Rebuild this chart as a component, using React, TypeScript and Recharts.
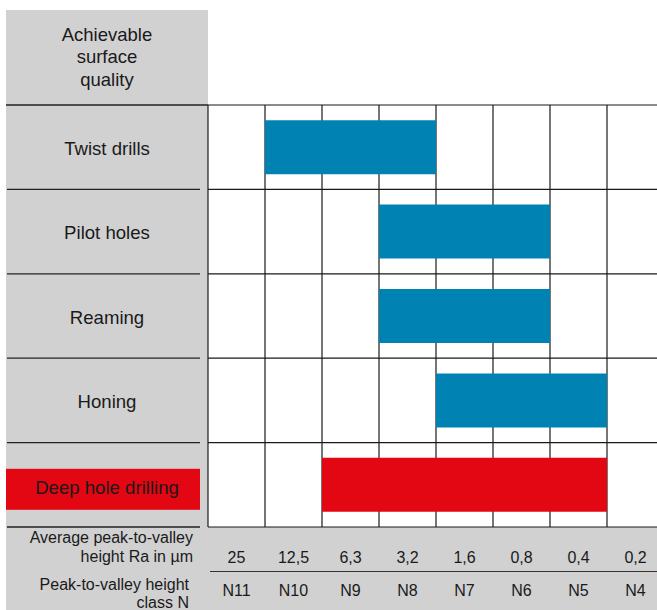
import React from 'react';
import { BarChart, Bar, XAxis, YAxis, CartesianGrid, Cell } from 'recharts';

const processes = ['Twist drills', 'Pilot holes', 'Reaming', 'Honing', 'Deep hole drilling'];
const rangeStart = [1, 3, 3, 4, 2];
const rangeEnd = [4, 6, 6, 7, 7];
const raValues = ['25', '12,5', '6,3', '3,2', '1,6', '0,8', '0,4', '0,2'];
const nClasses = ['N11', 'N10', 'N9', 'N8', 'N7', 'N6', 'N5', 'N4'];
const highlighted = 'Deep hole drilling';

const BLUE = '#0083b3';
const RED = '#e30613';
const GRAY = '#d1d1d1';
const INK = '#1a1a1a';
const FONT = '"Liberation Sans", Arial, Helvetica, sans-serif';

const data = processes.map((name, i) => ({ name, range: [rangeStart[i], rangeEnd[i]] }));
const colCount = raValues.length;
const rowCount = processes.length;
const gridTicks = Array.from({ length: colCount + 1 }, (_, i) => i);
const labelTicks = Array.from({ length: colCount }, (_, i) => i + 0.5);
const rowBoundaries = Array.from({ length: rowCount + 1 }, (_, i) => i);

const RowTick = (props: any) => {
  const { x, y, payload, index } = props;
  const name = payload.value;
  const hl = name === highlighted;
  const half = typeof payload.offset === 'number' && payload.offset > 0 ? payload.offset : 42.2;
  const first = index === 0;
  const last = index === rowCount - 1;
  return (
    <g>
      <line
        x1={first ? x - 202 : x - 201}
        x2={first ? x : x - 8}
        y1={y - half}
        y2={y - half}
        stroke="#222"
        strokeWidth={1.3}
      />
      {last && <line x1={x - 201} x2={x - 8} y1={y + half} y2={y + half} stroke="#222" strokeWidth={1.3} />}
      {hl && <rect x={x - 202} y={y - 16} width={194} height={41} fill={RED} />}
      <text
        x={x - 101}
        y={y + (hl ? 3 : 1)}
        textAnchor="middle"
        dominantBaseline="central"
        fontFamily={FONT}
        fontSize={18.6}
        fill={INK}
      >
        {name}
      </text>
    </g>
  );
};

const ColTick = (props: any) => {
  const { x, y, payload } = props;
  const i = Math.floor(payload.value);
  return (
    <g>
      <text x={x} y={y + 30} textAnchor="middle" dominantBaseline="central" fontFamily={FONT} fontSize={16} fill={INK}>
        {raValues[i]}
      </text>
      <text x={x} y={y + 63} textAnchor="middle" dominantBaseline="central" fontFamily={FONT} fontSize={16} fill={INK}>
        {nClasses[i]}
      </text>
    </g>
  );
};

const rowLines = ({ offset }: any) =>
  rowBoundaries.map((k) => offset.top + (k * offset.height) / rowCount);

export default function App() {
  return (
    <div
      style={{
        position: 'absolute',
        left: 0,
        top: 0,
        width: 657,
        height: 610,
        overflow: 'hidden',
        background: '#fff',
        fontFamily: FONT,
        color: INK,
      }}
    >
      <div style={{ position: 'absolute', left: 6, top: 10, width: 202, height: 600, background: GRAY }} />
      <div style={{ position: 'absolute', left: 6, top: 527, width: 651, height: 83, background: GRAY }} />
      <div style={{ position: 'absolute', left: 0, top: 0 }}>
        <BarChart
          width={664}
          height={610}
          data={data}
          layout="vertical"
          margin={{ top: 105, right: 0, bottom: 0, left: 0 }}
          barCategoryGap="18%"
        >
          <CartesianGrid
            xAxisId="grid"
            yAxisId="cat"
            stroke="#1a1a1a"
            strokeWidth={1.2}
            fill="#ffffff"
            fillOpacity={1}
            horizontalCoordinatesGenerator={rowLines}
          />
          <XAxis
            xAxisId="grid"
            type="number"
            domain={[0, colCount]}
            ticks={gridTicks}
            allowDataOverflow
            orientation="top"
            hide
          />
          <XAxis
            xAxisId="labels"
            type="number"
            domain={[0, colCount]}
            ticks={labelTicks}
            allowDataOverflow
            orientation="bottom"
            height={83}
            axisLine={false}
            tickLine={false}
            tickSize={0}
            tickMargin={0}
            interval={0}
            tick={<ColTick />}
          />
          <YAxis
            yAxisId="cat"
            type="category"
            dataKey="name"
            width={208}
            axisLine={false}
            tickLine={false}
            tickSize={0}
            tickMargin={0}
            interval={0}
            tick={<RowTick />}
          />
          <Bar dataKey="range" xAxisId="grid" yAxisId="cat" isAnimationActive={false}>
            {data.map((d) => (
              <Cell key={d.name} fill={d.name === highlighted ? RED : BLUE} />
            ))}
          </Bar>
        </BarChart>
      </div>
      <div
        style={{
          position: 'absolute',
          left: 6,
          top: 10,
          width: 202,
          height: 95,
          display: 'flex',
          alignItems: 'center',
          justifyContent: 'center',
          textAlign: 'center',
          fontSize: 18.5,
          lineHeight: '22.5px',
        }}
      >
        <div>
          Achievable
          <br />
          surface
          <br />
          quality
        </div>
      </div>
      <div
        style={{
          position: 'absolute',
          left: 6,
          top: 528,
          width: 187,
          textAlign: 'right',
          fontSize: 16,
          lineHeight: '19px',
          whiteSpace: 'nowrap',
        }}
      >
        Average peak-to-valley
        <br />
        height Ra in µm
      </div>
      <div
        style={{
          position: 'absolute',
          left: 6,
          top: 576,
          width: 183,
          textAlign: 'right',
          fontSize: 16,
          lineHeight: '18px',
          whiteSpace: 'nowrap',
        }}
      >
        Peak-to-valley height
        <br />
        class N
      </div>
      <div style={{ position: 'absolute', left: 210, top: 571, width: 447, height: 1.3, background: '#333' }} />
    </div>
  );
}
